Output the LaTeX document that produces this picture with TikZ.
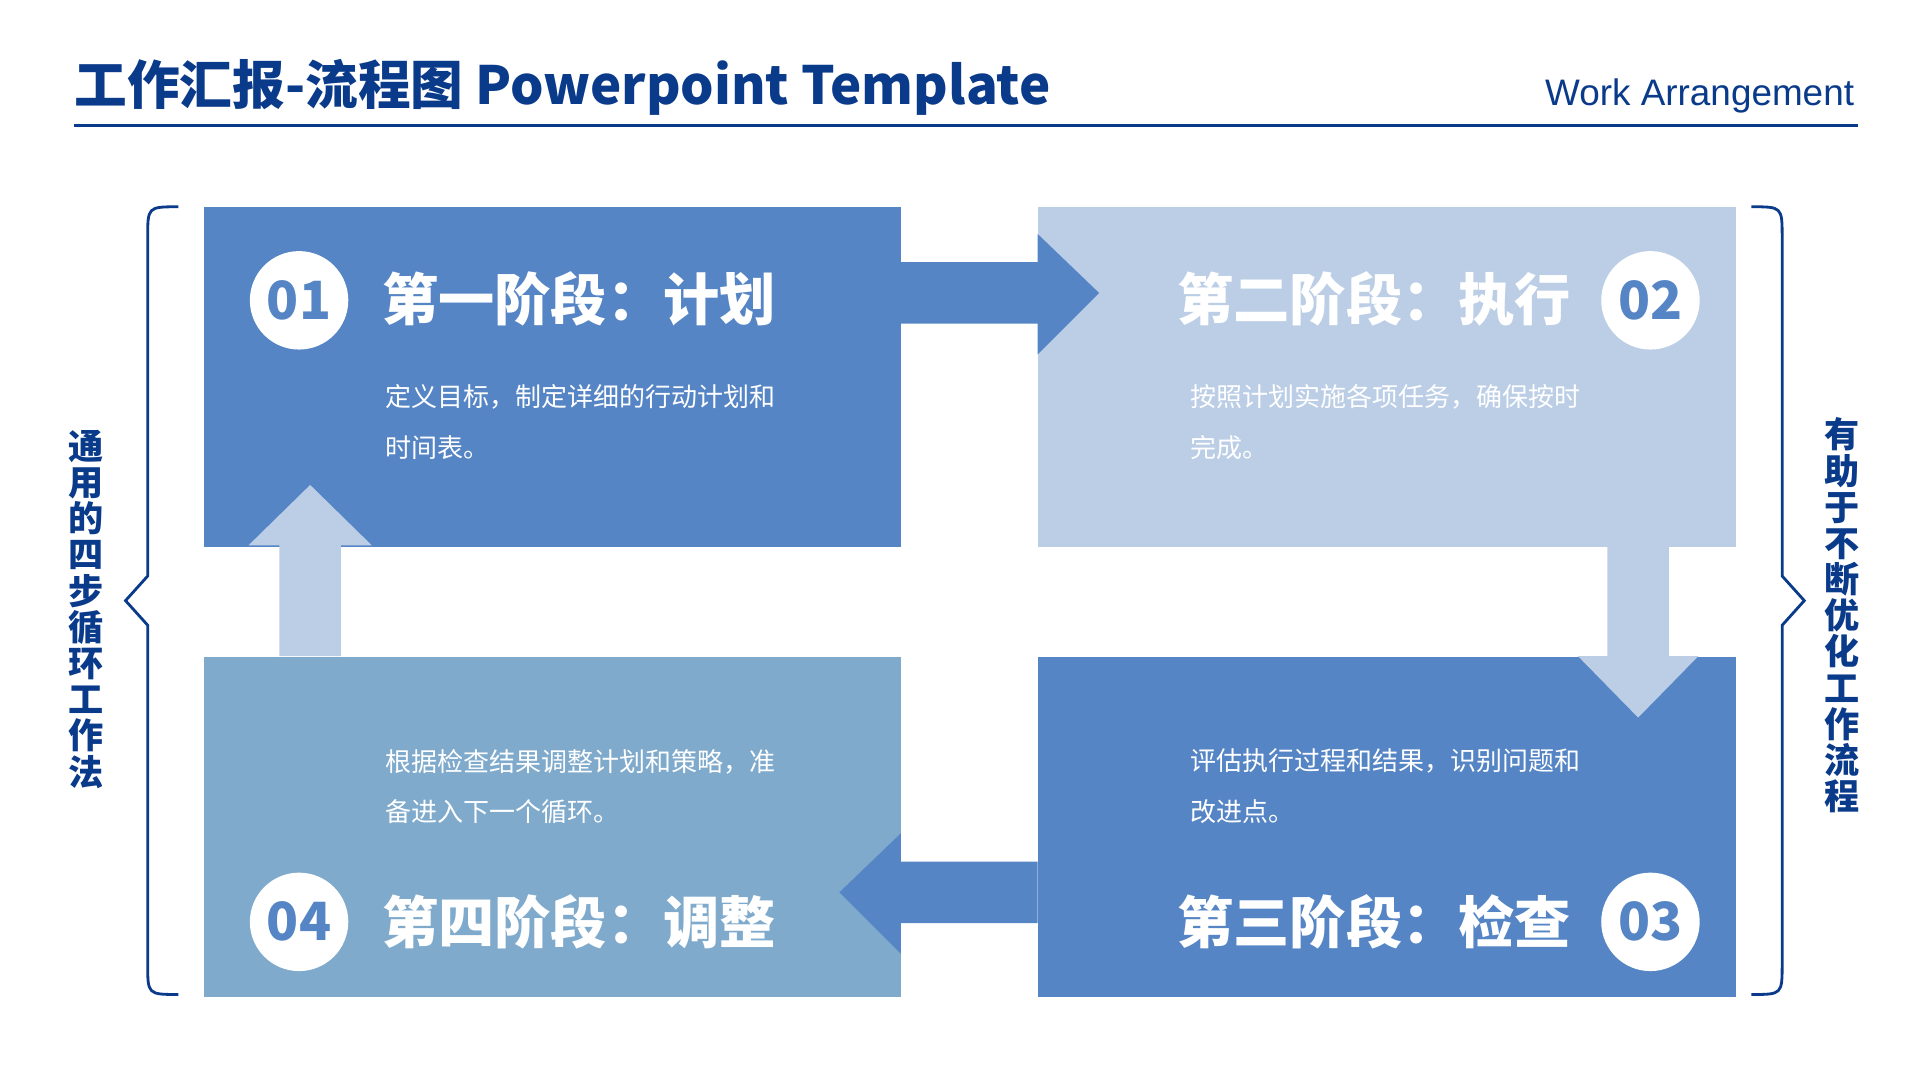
\documentclass[tikz,border=0pt]{standalone}
\usepackage{fontspec}
\setmainfont{Noto Sans CJK SC}
\newfontfamily\latinfont{Liberation Sans}
\definecolor{navy}{HTML}{0A3A8A}
\definecolor{midblue}{HTML}{5585C5}
\definecolor{lightblue}{HTML}{BBCEE6}
\definecolor{greyblue}{HTML}{7FAACC}
\tikzset{
  box/.style={inner sep=0, minimum width=6.98cm, minimum height=3.40cm, anchor=north west},
  num/.style={circle, fill=white, minimum size=0.985cm, inner sep=0, text=midblue, font=\fontsize{15}{15}\selectfont\bfseries},
  head/.style={text=white, font=\fontsize{16}{16}\selectfont\bfseries, inner sep=0},
  body/.style={text=white, font=\fontsize{7.4}{14.4}\selectfont, align=left, inner sep=0, anchor=north west},
  side/.style={text=navy, font=\fontsize{10}{10.3}\selectfont\bfseries, align=center, inner sep=0},
}
\begin{document}
\begin{tikzpicture}[x=0.01231cm, y=-0.01231cm]
\useasboundingbox (0,0) rectangle (1560,877);
% header
\node[anchor=base west, inner sep=0, text=navy, font=\fontsize{15}{15}\selectfont\bfseries] (title) at (60,85) {工作汇报-流程图 Powerpoint Template};
\node[anchor=base east, inner sep=0, text=navy, font=\latinfont\fontsize{10.5}{10.5}\selectfont] (sub) at (1507,86) {Work Arrangement};
\draw[navy, line width=1.1pt] (60,102) -- (1510,102);
% boxes
\node[box, fill=midblue] (1) at (165,168) {};
\node[box, fill=lightblue] (2) at (843,168) {};
\node[box, fill=midblue] (3) at (843,533) {};
\node[box, fill=greyblue] (4) at (165,533) {};
% arrows between boxes
\fill[midblue] (732,213) -- (843,213) -- (843,190) -- (893,238) -- (843,288) -- (843,263) -- (732,263) -- cycle;
\fill[lightblue] (1306,443) -- (1356,443) -- (1356,533) -- (1380,533) -- (1331,583) -- (1282,533) -- (1306,533) -- cycle;
\fill[midblue] (843,700) -- (732,700) -- (732,677) -- (682,725) -- (732,775) -- (732,750) -- (843,750) -- cycle;
\fill[lightblue] (227,533) -- (227,443) -- (202,443) -- (252,394) -- (302,443) -- (277,443) -- (277,533) -- cycle;
% numbers and headings
\node[num] (n1) at (243,244) {01};
\node[num] (n2) at (1341,244) {02};
\node[num] (n3) at (1341,749) {03};
\node[num] (n4) at (243,749) {04};
\node[head, anchor=west] (h1) at (310,243) {第一阶段：计划};
\node[head, anchor=east] (h2) at (1277,243) {第二阶段：执行};
\node[head, anchor=east] (h3) at (1277,749) {第三阶段：检查};
\node[head, anchor=west] (h4) at (310,749) {第四阶段：调整};
% descriptions
\node[body] (t1) at (313,312) {定义目标，制定详细的行动计划和\\时间表。};
\node[body] (t2) at (967,312) {按照计划实施各项任务，确保按时\\完成。};
\node[body] (t3) at (967,608) {评估执行过程和结果，识别问题和\\改进点。};
\node[body] (t4) at (313,608) {根据检查结果调整计划和策略，准\\备进入下一个循环。};
% side braces
\draw[navy, line width=0.8pt] (145,168) .. controls (120,168) .. (120,193) -- (120,468) -- (102,488) -- (120,508) -- (120,783) .. controls (120,808) .. (145,808);
\draw[navy, line width=0.8pt] (1423,168) .. controls (1448,168) .. (1448,193) -- (1448,468) -- (1466,488) -- (1448,508) -- (1448,783) .. controls (1448,808) .. (1423,808);
\node[side] (l) at (70,495) {通\\用\\的\\四\\步\\循\\环\\工\\作\\法};
\node[side] (r) at (1497,500) {有\\助\\于\\不\\断\\优\\化\\工\\作\\流\\程};
\end{tikzpicture}
\end{document}
